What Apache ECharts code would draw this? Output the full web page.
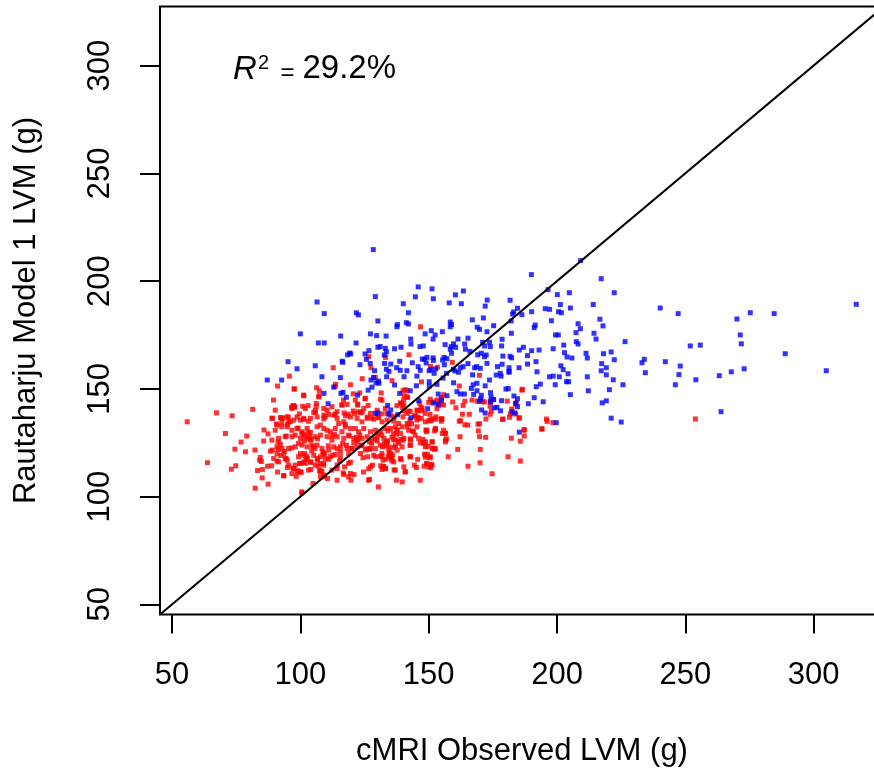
<!DOCTYPE html>
<html><head><meta charset="utf-8">
<script src="https://cdn.jsdelivr.net/npm/echarts@6/dist/echarts.min.js"></script>
<style>html,body{margin:0;padding:0;background:#fff}#c{width:874px;height:773px}</style>
</head><body><div id="c"></div>
<script>
const tickValues = [50, 100, 150, 200, 250, 300];
const axisMin = 45.3, axisMax = 327.4;
const identityLine = [[45.3, 45.3], [327.4, 327.4]];
const xTitle = 'cMRI Observed LVM (g)';
const yTitle = 'Rautaharju Model 1 LVM (g)';
const r2Text = ['R', '2', '=', '29.2%'];

const redPoints = [
[146.8,178.8],[142.3,165.8],[126.6,164.9],[133.2,164.6],[112.8,159.8],[127.5,159.8],[95.7,155.9],[97.6,150.0],[106.3,150.5],[107.4,149.1],[113.7,152.1],[113.5,151.0],[119.5,151.9],[124.1,154.7],[129.2,155.3],[135.7,153.8],[140.8,149.6],[140.0,149.1],[141.5,149.3],[147.2,153.2],[153.4,160.0],[150.7,160.4],[159.2,162.3],[169.8,156.3],[161.9,151.3],[155.8,147.3],[153.2,144.8],[154.9,142.9],[159.3,143.9],[163.4,142.3],[166.9,144.8],[168.9,144.3],[171.0,144.3],[174.0,144.2],[173.9,142.0],[175.1,144.9],[180.6,144.3],[183.9,142.9],[186.5,149.8],[160.6,141.2],[153.9,142.2],[147.0,141.5],[146.5,143.4],[145.7,139.8],[142.8,139.5],[139.4,143.1],[140.2,144.8],[137.6,142.2],[131.5,148.1],[131.8,144.7],[120.6,147.7],[123.1,148.1],[125.2,145.4],[122.3,142.9],[126.4,142.3],[124.1,139.2],[123.4,138.9],[120.6,139.7],[121.1,138.6],[116.8,144.8],[116.2,142.5],[117.0,138.8],[110.4,140.2],[106.2,141.9],[105.9,139.1],[109.7,137.0],[109.1,136.1],[100.9,141.9],[101.3,147.1],[97.4,142.2],[96.6,141.5],[97.9,141.5],[103.0,142.2],[99.6,138.4],[95.3,136.9],[92.6,136.6],[113.6,138.3],[117.6,137.5],[118.6,138.3],[127.9,136.4],[126.2,136.9],[131.8,138.4],[135.3,137.5],[136.6,137.0],[139.8,141.4],[140.5,139.8],[148.6,138.6],[150.5,138.2],[152.8,137.0],[155.0,136.1],[163.1,138.2],[165.8,138.2],[174.0,138.2],[181.8,138.4],[183.9,138.3],[195.9,136.0],
[253.9,136.0],[182.4,140.6],[178.9,136.0],[185.3,136.4],[198.4,134.3],[194.1,131.3],[187.2,130.8],[187.2,128.1],[182.2,127.1],[186.3,149.4],
[162.4,135.2],[161.9,135.0],[164.1,133.3],[165.2,133.2],[169.3,130.5],[169.8,133.8],[172.2,127.5],[169.8,127.8],[170.1,121.9],[162.2,127.8],[161.3,121.9],[156.9,126.8],[156.6,126.2],[156.4,129.5],[155.3,129.3],[152.7,131.2],[152.3,130.5],[149.1,130.1],[154.8,136.0],[154.9,135.0],[150.9,135.2],[150.0,135.2],[151.3,136.1],[148.9,130.9],[151.4,125.4],[148.2,125.2],[149.7,123.3],[151.4,122.4],[152.3,121.9],[148.7,118.3],[148.4,119.7],[150.5,118.0],[151.0,114.9],[150.9,113.4],[149.1,115.2],[157.6,118.5],[165.3,114.1],[170.0,115.7],[174.7,110.6],[180.9,118.5],[185.7,116.5],[185.7,125.7],[185.2,136.6],[181.5,136.8],[178.8,135.8],[172.3,136.0],[169.2,133.6],[194.1,131.5],[196.1,134.9],[187.2,131.1],[184.1,143.4],[174.4,139.8],[171.7,143.9],[164.1,144.3],[155.0,146.0],[141.8,146.0],[140.5,146.7],[138.9,143.5],[147.4,139.8],[144.5,137.5],[146.1,136.4],[147.1,136.3],[142.7,135.5],[142.3,133.7],[144.1,130.1],[143.6,130.5],[144.7,128.5],[147.8,126.5],[142.8,126.8],[140.0,126.2],[138.4,124.8],[135.7,127.6],[136.3,126.5],[133.5,125.4],[134.6,120.3],[134.3,118.8],[135.9,119.4],[135.3,118.5],[135.6,116.6],[139.2,117.1],[142.7,118.5],[131.7,118.5],[132.4,114.0],[136.5,112.4],[140.9,111.5],[131.8,112.6],[133.5,123.6],[137.4,128.9],[134.1,130.5],
[55.9,134.7],[63.8,115.7],[67.3,138.9],[70.8,129.3],[73.4,137.5],[73.1,112.7],[74.8,114.3],[74.5,122.0],[76.9,125.3],[78.6,120.8],[79.1,128.1],[81.4,140.5],[82.3,121.6],[82.4,103.9],[83.3,112.1],[84.1,116.9],[84.4,118.2],[84.8,116.3],[85.1,108.7],[85.2,112.6],[85.7,125.8],[85.8,130.9],[87.4,129.1],[87.4,105.8],[87.2,114.1],[88.3,121.1],[89.1,121.6],[88.8,114.3],[90.9,116.5],[91.3,125.4],[91.4,121.9],[91.1,111.4],[89.1,136.4],[89.5,144.8],[91.1,151.3],[93.2,136.4],[92.7,132.4],[92.2,124.2],[92.3,119.1],[94.5,117.5],[93.7,121.0],[94.5,128.1],[90.7,133.7],[95.0,133.5],[96.0,134.7],[97.1,142.2],[97.6,141.7],[97.6,149.9],[98.7,137.0],[99.1,131.8],[99.3,124.7],[96.6,122.6],[94.8,116.9],[95.0,113.5],[97.1,113.2],[99.1,112.0],[100.3,111.2],[98.4,109.4],[93.5,109.8],[100.5,101.7],[100.6,129.3],[101.4,128.9],[101.5,125.8],[103.2,129.6],[103.6,127.8],[102.7,126.8],[104.3,126.7],[101.3,135.8],[103.1,135.0],[100.0,120.0],[101.7,120.0],[102.1,117.3],[99.7,115.4],[104.1,115.9],[106.7,116.9],[105.7,122.4],[106.7,126.8],[104.9,123.1],[104.4,121.2],[107.3,146.7],[106.2,143.2],[108.7,120.8],[109.3,119.7],[109.0,115.4],[110.9,123.6],[111.0,117.3],[112.4,128.1],[113.2,128.9],[112.6,119.2],[114.3,122.2],[115.3,116.5],[115.6,120.8],[116.5,124.7],[118.0,123.8],[117.5,133.5],[119.0,128.1],[120.1,122.4],[119.5,116.0],[120.8,125.0],[121.8,127.5],[122.5,126.5],[123.1,128.5],[123.7,123.6],[124.4,118.0],[126.2,118.5],[125.9,122.2],[126.9,121.9],[126.9,125.4],[127.8,124.7],[129.2,126.7],[129.9,125.9],[130.4,129.3],[131.7,128.5],[132.0,123.1],[132.8,124.7],[134.0,125.9],[134.5,121.6],[131.8,120.0],[133.4,117.4],[131.3,114.3],[128.1,114.6],[129.3,118.5],[135.0,118.5],[136.3,122.8],[137.0,123.6],[138.2,125.8],[139.2,126.5],[136.3,129.3],[137.6,130.9],[141.5,132.4],[143.3,133.8],[140.0,137.0],[141.5,138.6],[144.9,137.4],[145.7,136.8],[142.7,123.8],[146.7,125.0],[148.8,125.4],[149.5,119.6],[148.2,114.1],[145.7,117.3],[145.2,113.5],[140.8,111.5],[133.2,113.1],[132.2,116.9],[126.6,112.9],[124.6,111.4],[120.9,110.3],[117.2,113.8],[116.7,111.0],[112.3,112.3],[109.3,109.2],[110.6,108.4],[114.3,107.6],[118.8,109.2],[126.9,108.0],[130.4,104.5],[137.4,107.6],[144.4,114.6],[150.0,113.8],[146.7,107.6],[139.7,106.8],[119.7,107.6],[107.5,112.1],[103.2,112.3],[104.1,112.6],[107.0,114.1],[102.6,118.5],[101.9,115.4],[107.8,109.2],[104.9,106.1],
[101.3,146.8],[107.1,146.3],[125.3,145.6],[131.2,145.2],[141.6,146.3],[150.6,145.2],[154.5,144.8],[90.2,140.1],[97.4,141.7],[96.7,140.9],[101.9,140.9],[105.8,140.1],[105.2,139.1],[109.1,140.9],[112.3,141.7],[114.3,139.4],[116.2,142.5],[118.2,142.8],[121.4,144.8],[122.3,142.5],[122.7,139.4],[124.7,140.9],[127.3,138.6],[129.9,140.1],[130.1,137.0],[133.1,140.9],[133.8,138.6],[140.3,142.5],[142.2,139.7],[145.4,140.1],[147.4,140.9],[150.0,143.7],[151.9,144.0],[153.2,140.9],[155.8,142.5],
[88.9,136.3],[92.2,136.6],[94.8,137.0],[92.8,134.4],[95.4,134.7],[97.4,135.5],[100.0,135.5],[101.3,136.3],[103.9,136.3],[106.5,137.0],[109.1,137.8],[111.0,138.1],[113.0,137.8],[114.3,136.3],[114.9,133.9],[116.9,134.7],[119.5,137.0],[122.1,136.3],[124.0,134.7],[126.0,136.3],[128.6,135.9],[130.5,136.6],[131.8,134.7],[133.8,135.5],[136.4,135.0],[138.3,133.9],[139.6,132.4],[141.6,133.9],[145.4,135.5],[148.7,134.7],[150.6,135.5],[152.6,135.9],[155.2,135.9],
[90.9,133.2],[90.2,130.8],[94.8,132.4],[96.7,130.8],[98.7,131.6],[100.6,130.1],[102.6,131.6],[103.9,129.8],[106.5,132.4],[107.8,133.2],[109.1,131.6],[110.4,130.8],[111.7,130.1],[113.6,131.6],[116.2,130.1],[117.5,132.4],[119.5,131.6],[121.4,131.6],[122.7,130.1],[124.7,131.6],[127.3,130.1],[129.2,130.8],[131.2,130.1],[133.1,131.6],[135.1,131.6],[137.0,132.4],[137.7,130.8],[139.0,129.3],[142.2,130.8],[145.4,132.4],[149.3,130.8],[152.6,131.6],[155.8,130.8],[156.5,129.3],
[88.9,126.2],[91.5,127.0],[94.1,127.8],[96.7,127.8],[98.0,128.5],[100.0,127.0],[101.9,127.8],[103.9,126.2],[105.8,127.8],[107.8,128.5],[110.4,127.8],[112.3,126.2],[114.3,127.8],[116.9,127.0],[118.8,128.5],[120.8,127.0],[122.1,125.4],[124.0,127.0],[126.0,127.8],[127.9,127.0],[129.9,127.8],[132.5,127.0],[133.8,125.4],[137.0,126.2],[140.3,127.0],[142.9,126.2],[146.1,127.0],[148.0,124.7],[151.3,125.4],[151.9,122.3],[156.5,125.4],
[90.9,123.1],[92.8,122.3],[95.4,122.3],[98.0,123.1],[100.6,123.9],[102.6,123.1],[104.5,123.9],[106.5,123.9],[108.4,122.3],[109.1,120.0],[111.0,121.6],[113.0,123.1],[115.6,123.1],[118.2,122.3],[120.1,122.3],[122.1,123.1],[124.0,123.9],[127.3,122.3],[129.2,122.3],[131.2,123.9],[134.4,123.1],[137.7,121.6],[139.6,123.1],[142.9,123.9],[148.7,123.1],[152.6,122.3],
[90.9,120.0],[93.5,120.0],[89.6,117.7],[94.1,117.7],[99.3,118.5],[101.3,119.2],[102.6,117.7],[105.2,119.2],[106.5,117.7],[107.8,118.5],[109.7,117.7],[111.7,118.5],[113.6,119.5],[115.6,118.5],[118.8,120.0],[123.4,120.0],[125.3,121.6],[128.6,119.2],[131.2,118.8],[135.1,120.0],[135.7,117.7],[139.0,117.7],[142.9,118.5],[148.7,119.2],[150.6,118.5],
[91.5,116.1],[95.4,114.6],[98.0,114.6],[100.0,115.4],[101.3,116.1],[103.9,116.1],[105.8,114.6],[107.8,115.4],[109.1,114.6],[114.3,114.6],[118.8,115.4],[127.3,113.8],[132.5,113.8],[133.1,113.0],[136.4,116.1],[137.0,112.3],[140.3,113.8],[149.3,115.4],[151.3,114.6],
[97.4,113.0],[98.7,111.5],[100.0,111.5],[96.7,110.7],[108.4,111.8],[109.1,110.0],[107.8,111.5],[114.3,113.0],[116.9,110.3],[119.5,110.7],[126.6,107.6],[93.5,109.6],[100.6,102.2]
];

const bluePoints = [
[128.4,214.6],[106.5,190.3],[109.3,184.9],[121.8,185.3],[122.6,184.3],[129.2,192.8],[140.1,189.5],[145.9,197.3],[151.3,196.4],[144.8,192.7],[151.8,191.8],[142.1,185.3],[160.4,193.6],[163.5,195.4],[158.0,189.9],[162.7,189.5],[172.8,191.2],[172.0,188.4],[181.7,191.1],[130.2,181.5],[137.8,179.8],[137.6,178.8],[141.3,180.7],[142.1,180.1],[158.4,181.0],[158.9,179.8],[158.4,178.8],[167.0,182.0],[171.3,182.9],[175.3,179.3],[168.9,178.6],[169.8,177.6],[172.7,176.5],[182.7,184.7],[184.6,187.4],[183.1,185.7],[186.3,184.4],[182.1,181.5],[182.2,175.8],[178.6,173.0],[100.0,175.5],[107.0,171.3],[109.3,171.3],[115.7,174.5],[121.7,171.3],[127.3,175.5],[129.7,174.7],[133.4,174.5],[130.2,169.3],[131.1,169.6],[126.7,167.7],[125.2,166.2],[133.1,168.8],[133.5,167.2],[136.7,168.6],[139.2,169.3],[143.1,170.8],[143.0,173.1],[146.6,169.6],[147.9,169.9],[148.6,175.5],[151.0,177.0],[152.5,175.0],[155.3,176.5],[151.7,173.1],[156.4,170.5],[159.7,170.9],[158.8,169.6],[160.5,169.3],[161.4,173.1],[164.0,170.8],[165.3,173.5],[158.4,168.4],[158.9,166.5],[164.3,168.4],[166.1,167.4],[169.1,165.8],[170.5,166.5],[172.4,165.7],[171.7,164.9],[171.0,171.6],[171.8,169.9],[174.0,169.6],[173.7,171.6],[178.4,169.9],[178.9,165.2],[181.7,165.1],[182.3,164.4],[185.3,168.0],[186.9,169.3],[188.5,165.4],[178.6,161.4],[176.8,160.3],[181.3,159.8],[181.3,158.1],[185.2,159.8],[188.5,161.5],[180.1,149.9],[181.0,150.1],[183.2,146.7],[184.6,145.4],[183.9,143.3],[188.8,143.1],[183.5,138.8],[178.0,139.8],[175.6,141.2],[170.2,145.3],[169.7,144.2],[167.5,147.4],[166.6,150.2],[168.8,149.1],[167.3,151.9],[172.0,151.4],[174.1,148.2],[162.3,147.6],[163.9,147.6],[161.0,148.7],[157.1,146.8],[153.7,147.6],[159.7,152.8],[155.6,155.0],[153.2,152.1],[150.2,153.3],[150.2,151.3],[152.1,157.2],[150.9,159.1],[157.0,157.2],[159.6,159.1],[160.2,158.3],[161.6,157.7],[162.3,159.8],[163.4,160.3],[165.3,161.7],[168.7,160.3],[167.9,159.8],[170.1,159.5],[172.7,161.8],[167.1,156.5],[168.8,152.6],[173.7,154.1],[176.3,156.4],[178.2,155.9],[177.9,157.2],[146.7,158.6],[145.9,160.3],[145.4,155.9],[147.5,163.8],[148.3,163.7],[149.3,164.6],[149.0,162.0],[150.2,158.4],[152.7,159.3],[151.7,164.4],[151.8,163.2],[155.4,163.4],[156.0,164.6],[157.1,164.0],[156.1,161.2],[143.6,162.1],[141.5,158.4],[138.9,158.6],[140.4,155.6],[137.5,159.8],[138.7,162.8],[135.2,161.5],[132.7,165.7],[132.8,161.8],[133.5,159.1],[134.5,158.1],[133.6,155.6],[128.9,158.4],[127.2,161.8],[125.7,163.7],[128.5,155.3],[127.5,154.1],[129.5,152.8],[130.6,152.6],[136.7,151.8],[145.2,151.4],[142.8,149.1],[138.7,147.9],[130.4,153.6],[123.2,161.2],[116.3,162.8],[116.5,162.3],[119.2,166.6],[118.4,165.8],[119.6,166.2],[115.6,155.2],[108.4,155.6],[105.8,160.7],[98.7,159.3],[95.2,162.6],[92.7,154.1],[109.2,147.9],[110.8,143.1],[116.6,148.4],[115.8,147.9],[113.0,150.8],[117.9,146.1],[122.3,147.1],[126.4,149.4],[127.9,150.8],[134.0,142.3],[146.1,144.5],[151.8,143.4],[153.7,142.9],[155.0,144.8],[149.6,140.8],[135.2,140.2],[130.2,138.8],[129.2,138.6],[137.9,138.0],[134.5,138.2],[143.1,136.6],[176.6,141.4],[174.3,146.1],[175.3,145.1],[178.4,144.5],[174.1,143.9],[170.5,147.0],[170.6,140.2],[172.0,138.8],[184.6,141.7],[182.4,139.4],[181.3,157.7],[87.1,154.1],
[190.0,203.0],[209.2,209.5],[217.2,201.1],[222.3,194.6],[204.8,194.6],[200.1,193.7],[196.5,196.0],[214.1,189.1],[201.3,189.1],[205.2,187.5],[195.4,187.2],[197.1,186.9],[200.6,185.8],[201.7,185.3],[190.1,185.8],[240.2,187.5],[247.2,184.9],[275.3,185.3],[284.6,184.9],[316.6,189.2],[270.1,182.4],[216.7,182.3],[197.8,181.6],[208.2,180.2],[191.1,178.4],[191.5,179.6],[209.1,177.9],[217.9,179.2],[199.4,175.0],[200.5,175.0],[207.4,176.1],[214.4,175.8],[215.2,173.1],[271.4,175.0],[271.8,170.9],[251.9,169.9],[255.8,170.3],[226.5,171.9],[207.5,171.9],[208.2,170.8],[202.6,170.3],[198.5,168.6],[193.0,168.0],[190.1,167.7],[221.1,167.1],[218.1,166.3],[211.3,166.5],[211.8,164.3],[202.9,166.8],[203.9,164.8],[205.8,164.3],[288.9,166.3],[234.0,163.7],[233.1,162.1],[242.2,162.6],[248.0,160.6],[272.9,159.3],[267.9,157.9],[263.2,156.1],[254.1,154.2],[247.5,156.6],[246.1,151.9],[304.9,158.4],[234.4,157.5],[222.3,163.5],[217.4,161.7],[219.2,159.8],[217.2,158.4],[219.2,156.5],[221.9,154.2],[225.7,151.9],[220.4,149.6],[212.2,149.1],[211.8,155.6],[204.3,157.0],[204.5,153.3],[203.7,153.3],[201.5,160.7],[202.4,158.9],[200.9,155.6],[197.1,155.6],[198.5,155.9],[199.3,151.9],[193.5,152.2],[191.9,151.0],[205.2,147.3],[194.6,144.0],[191.1,145.9],[217.6,143.5],[219.2,144.4],[221.1,136.4],[225.0,134.6],[199.7,134.3],[263.9,139.4],[192.2,157.9],[191.8,162.6],[185.3,129.9]
];

const FONT = '"Liberation Sans", Arial, Helvetica, sans-serif';
const chart = echarts.init(document.getElementById('c'), null, {renderer: 'canvas'});
chart.setOption({
  animation: false,
  backgroundColor: '#ffffff',
  grid: {left: 160, top: 6.5, width: 724, height: 608, containLabel: false, outerBoundsMode: 'none',
         show: true, borderColor: '#000', borderWidth: 2, backgroundColor: 'transparent'},
  xAxis: {
    type: 'value', min: axisMin, max: axisMax,
    name: xTitle, nameLocation: 'middle', nameGap: 121,
    nameTextStyle: {color: '#000', fontSize: 31, fontFamily: FONT},
    axisLine: {show: false},
    axisTick: {show: true, inside: false, length: 19, customValues: tickValues, lineStyle: {color: '#000', width: 2}},
    axisLabel: {show: true, customValues: tickValues, color: '#000', fontSize: 31, fontFamily: FONT, margin: 45},
    splitLine: {show: false}
  },
  yAxis: {
    type: 'value', min: axisMin, max: axisMax,
    name: yTitle, nameLocation: 'middle', nameGap: 118,
    nameTextStyle: {color: '#000', fontSize: 31, fontFamily: FONT},
    axisLine: {show: false},
    axisTick: {show: true, inside: false, length: 20, customValues: tickValues, lineStyle: {color: '#000', width: 2}},
    axisLabel: {show: true, customValues: tickValues, rotate: 90, color: '#000', fontSize: 31, fontFamily: FONT, margin: 44},
    splitLine: {show: false}
  },
  graphic: [
    {type: 'text', x: 233, y: 69.5, style: {text: r2Text[0], font: 'italic 33px ' + FONT, fill: '#000', verticalAlign: 'middle'}},
    {type: 'text', x: 258, y: 63.5, style: {text: r2Text[1], font: '20px ' + FONT, fill: '#000', verticalAlign: 'middle'}},
    {type: 'text', x: 280.5, y: 73.0, style: {text: r2Text[2], font: '24px ' + FONT, fill: '#000', verticalAlign: 'middle'}},
    {type: 'text', x: 302.5, y: 69.2, style: {text: r2Text[3], font: '33px ' + FONT, fill: '#000', verticalAlign: 'middle'}}
  ],
  series: [
    {type: 'scatter', data: redPoints, symbol: 'rect', symbolSize: 5, itemStyle: {color: '#ff0000'}, silent: true},
    {type: 'scatter', data: bluePoints, symbol: 'rect', symbolSize: 5, itemStyle: {color: '#0000ff'}, silent: true},
    {type: 'line', data: identityLine, symbol: 'none', clip: true, lineStyle: {color: '#000', width: 2}, silent: true}
  ]
});
</script>
</body></html>
